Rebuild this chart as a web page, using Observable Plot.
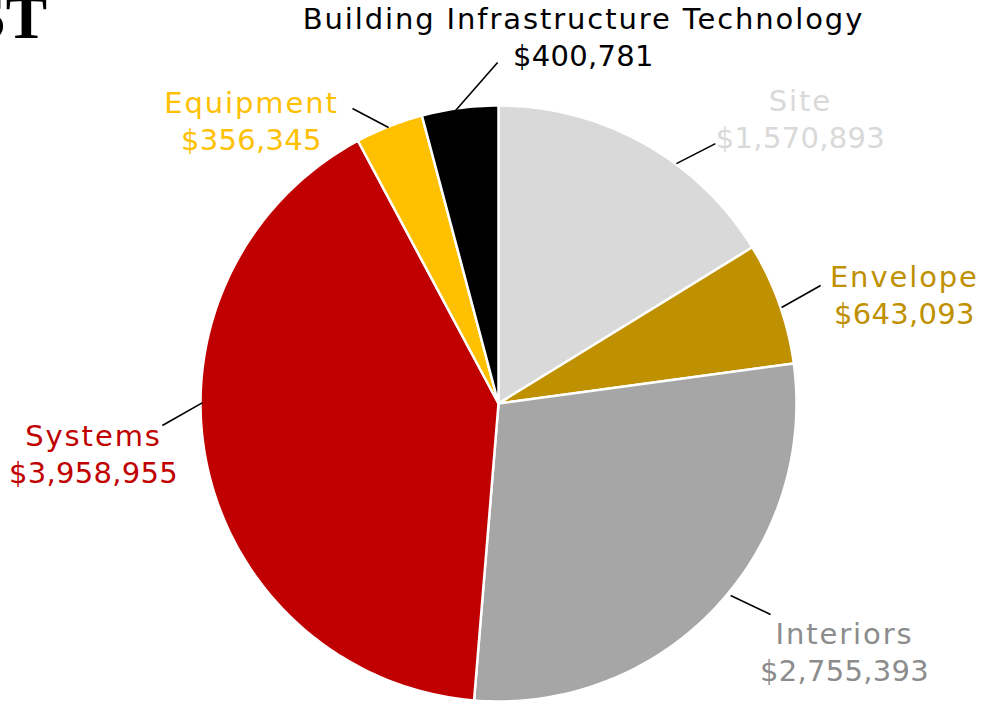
<!DOCTYPE html>
<html>
<head>
<meta charset="utf-8">
<script src="https://cdn.jsdelivr.net/npm/d3@7"></script>
<script src="https://cdn.jsdelivr.net/npm/@observablehq/plot@0.6"></script>
<style>
  html, body { margin: 0; padding: 0; background: #fff; overflow: hidden; }
  #wrap { position: relative; width: 981px; height: 701px; }
  #title { position: absolute; right: 934px; top: -14px; font-family: "Liberation Serif", serif; font-weight: bold; font-size: 62px; white-space: nowrap; color: #000; line-height: 1; }
</style>
</head>
<body>
<div id="wrap"><div id="title">COST</div></div>
<script>
// Data (clockwise from 12 o'clock)
const categories = ["Site", "Envelope", "Interiors", "Systems", "Equipment", "Building Infrastructure Technology"];
const values = [1570893, 643093, 2755393, 3958955, 356345, 400781];
const colors = ["#d9d9d9", "#bf9000", "#a6a6a6", "#c00000", "#ffc000", "#000000"];
const labelColors = ["#d9d9d9", "#bf9000", "#8c8c8c", "#c00000", "#ffc000", "#000000"];

// Label layout in data units (pie radius = 1): baseline of the value line
const labelX = [1.013, 1.362, 1.161, -1.359, -0.829, 0.285];
const labelY = [0.856, 0.268, -0.930, -0.268, 0.852, 1.131];
const leaderX1 = [0.597, 0.950, 0.779, -0.993, -0.369, -0.144];
const leaderY1 = [0.805, 0.322, -0.644, 0.003, 0.926, 0.983];
const leaderX2 = [0.728, 1.081, 0.913, -1.128, -0.490, -0.003];
const leaderY2 = [0.872, 0.396, -0.708, -0.074, 0.990, 1.144];

const fmt = d3.format("$,");
const total = d3.sum(values);

// Build slice outlines from the values
const slicePts = [];
let acc = 0;
categories.forEach((name, i) => {
  const a0 = acc / total * 2 * Math.PI;
  acc += values[i];
  const a1 = acc / total * 2 * Math.PI;
  const steps = Math.max(4, Math.ceil((a1 - a0) / (Math.PI / 180)));
  slicePts.push({name, x: 0, y: 0});
  for (let k = 0; k <= steps; k++) {
    const a = a0 + (a1 - a0) * k / steps;
    slicePts.push({name, x: Math.sin(a), y: Math.cos(a)});
  }
  slicePts.push({name, x: 0, y: 0});
});

const labels = categories.map((name, i) => ({
  name, value: fmt(values[i]), x: labelX[i], y: labelY[i], color: labelColors[i]
}));
const leaders = categories.map((name, i) => ({
  x1: leaderX1[i], y1: leaderY1[i], x2: leaderX2[i], y2: leaderY2[i]
}));

const chart = Plot.plot({
  width: 981,
  height: 701,
  marginLeft: 200,
  marginRight: 185,
  marginTop: 105,
  marginBottom: 0,
  x: {domain: [-1, 1], axis: null},
  y: {domain: [-1, 1], axis: null},
  color: {domain: categories, range: colors},
  style: {fontFamily: "DejaVu Sans", background: "#fff", overflow: "visible"},
  marks: [
    Plot.line(slicePts, {x: "x", y: "y", z: "name", fill: "name", stroke: "#fff", strokeWidth: 2.5, strokeLinejoin: "round", clip: false}),
    Plot.link(leaders, {x1: "x1", y1: "y1", x2: "x2", y2: "y2", stroke: "#000", strokeWidth: 1.6}),
    Plot.text(labels, {x: "x", y: "y", text: "name", fill: "color", fontSize: 29, lineAnchor: "bottom", textAnchor: "middle", dy: -37}),
    Plot.text(labels, {x: "x", y: "y", text: "value", fill: "color", fontSize: 29, lineAnchor: "bottom", textAnchor: "middle"})
  ]
});
const textGroups = d3.select(chart).selectAll('g[aria-label="text"]').nodes();
if (textGroups[0]) d3.select(textGroups[0]).selectAll("text").style("letter-spacing", "1.9px");
if (textGroups[1]) d3.select(textGroups[1]).selectAll("text").style("letter-spacing", "0.3px");
document.getElementById("wrap").prepend(chart);
</script>
</body>
</html>
